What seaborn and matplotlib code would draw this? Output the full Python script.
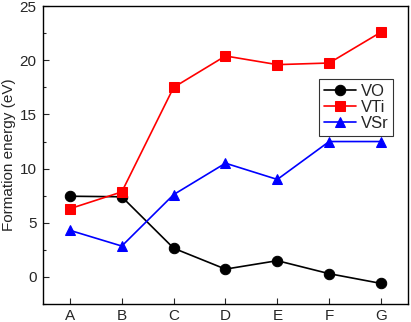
import matplotlib
matplotlib.use("Agg")
import matplotlib.pyplot as plt
import seaborn as sns
import pandas as pd
from matplotlib.ticker import MultipleLocator

categories = ["A", "B", "C", "D", "E", "F", "G"]
vo = [7.45, 7.4, 2.65, 0.72, 1.5, 0.3, -0.6]
vti = [6.3, 7.85, 17.5, 20.4, 19.6, 19.75, 22.6]
vsr = [4.3, 2.85, 7.6, 10.5, 9.0, 12.5, 12.5]
series_names = ["VO", "VTi", "VSr"]
colors = ["black", "red", "blue"]
markers = ["o", "s", "^"]

sns.set_style("ticks")
plt.rcParams["font.family"] = ["Liberation Sans", "DejaVu Sans"]
plt.rcParams["xtick.direction"] = "in"
plt.rcParams["ytick.direction"] = "in"

rows = []
for name, vals in zip(series_names, [vo, vti, vsr]):
    for i, (c, v) in enumerate(zip(categories, vals)):
        rows.append({"x": i, "cat": c, "value": v, "series": name})
df = pd.DataFrame(rows)

fig = plt.figure(figsize=(4.11, 3.22), dpi=100)
ax = fig.add_axes([0.1046, 0.0559, 0.888, 0.925])

for name, col, mk in zip(series_names, colors, markers):
    sub = df[df["series"] == name]
    sns.lineplot(data=sub, x="x", y="value", ax=ax, color=col, marker=mk,
                 markersize=7.5, markeredgecolor=col, linewidth=1.2,
                 label=name, sort=False)

ax.set_xlim(-0.52, 6.52)
ax.set_ylim(-2.5, 25)
ax.set_xticks(range(len(categories)))
ax.set_xticklabels(categories)
ax.yaxis.set_major_locator(MultipleLocator(5))
ax.yaxis.set_minor_locator(MultipleLocator(2.5))
ax.tick_params(axis="both", which="major", labelsize=11, length=4, width=0.8,
               top=False, right=False, pad=4.5)
ax.tick_params(axis="x", which="major", pad=3.5)
ax.tick_params(axis="y", which="minor", length=2.5, width=0.8, right=False)
ax.set_xlabel("")
ax.set_ylabel("Formation energy (eV)", fontsize=11, labelpad=3)
for s in ax.spines.values():
    s.set_linewidth(1.0)
    s.set_color("black")

leg = ax.legend(loc="upper right", bbox_to_anchor=(0.96, 0.755), fontsize=12,
                frameon=True, fancybox=False, handlelength=1.9,
                handletextpad=0.3, borderpad=0.3, labelspacing=0.05,
                borderaxespad=0)
leg.get_frame().set_edgecolor("black")
leg.get_frame().set_linewidth(0.8)

fig.savefig("out.png", dpi=100)
